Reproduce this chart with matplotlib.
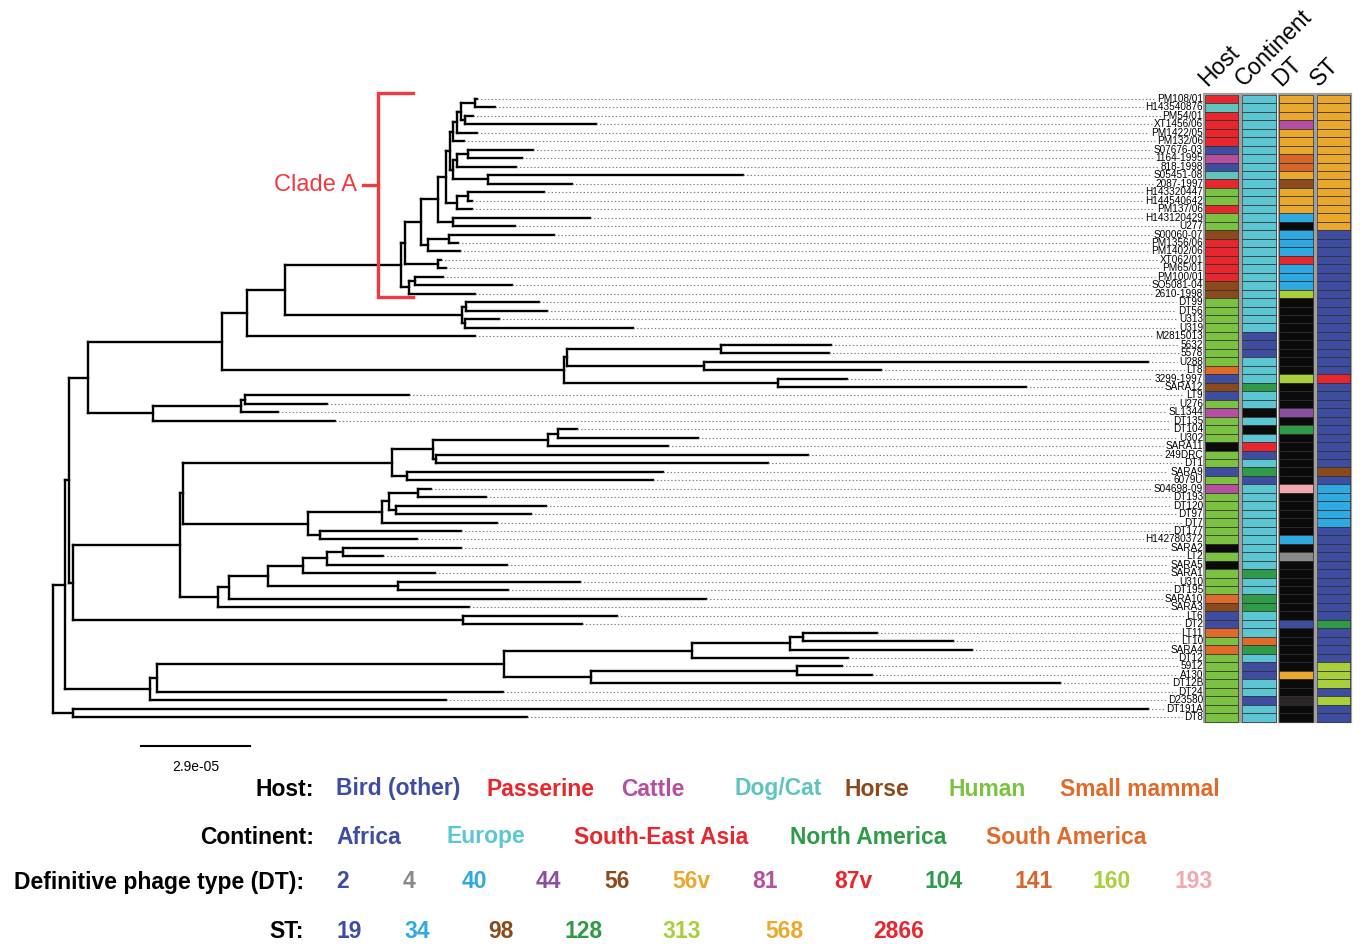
import matplotlib
matplotlib.use("Agg")
import matplotlib.pyplot as plt
from matplotlib.patches import Rectangle
from matplotlib.collections import LineCollection

plt.rcParams['font.family'] = ['Liberation Sans', 'DejaVu Sans']

# tip order, top to bottom
TIP_NAMES = ["PM108/01", "H143540876", "PM54/01", "XT1456/06", "PM1422/05", "PM132/06",
             "S07676-03", "1164-1995", "818-1998", "S05451-08", "2087-1997", "H143320447",
             "H144540642", "PM137/06", "H143120429", "U277", "S00060-07", "PM1356/06",
             "PM1402/06", "XT062/01", "PM65/01", "PM100/01", "SO5081-04", "2610-1998",
             "DT99", "DT56", "U313", "U319", "M2815013", "5632", "5578", "U288", "LT8",
             "3299-1997", "SARA12", "LT9", "U276", "SL1344", "DT135", "DT104", "U302",
             "SARA11", "249DRC", "DT1", "SARA9", "6079U", "S04698-09", "DT193", "DT120",
             "DT97", "DT7", "DT177", "H142780372", "SARA2", "LT2", "SARA5", "SARA1", "U310",
             "DT195", "SARA10", "SARA3", "LT6", "DT2", "LT11", "LT10", "SARA4", "DT12",
             "5912", "A130", "DT12B", "DT24", "D23580", "DT191A", "DT8"]

# host: b bird, p passerine, c cattle, d dog/cat, h horse, m human, s small mammal, x unknown
HOST = ["p", "d", "p", "p", "p", "p", "b", "c", "b", "d", "p", "m", "m", "p", "m", "m",
        "h", "p", "p", "p", "p", "p", "h", "h", "m", "m", "m", "m", "m", "m", "m", "m",
        "s", "b", "h", "b", "m", "c", "m", "m", "m", "x", "m", "m", "b", "m", "c", "m",
        "m", "m", "m", "m", "m", "x", "m", "x", "m", "m", "m", "s", "h", "b", "b", "s",
        "m", "s", "m", "m", "m", "m", "m", "m", "m", "m"]

# continent: a africa, e europe, r south-east asia, n north america, s south america, x unknown
CONTINENT = ["e"] * 28 + ["a", "a", "a", "e", "e", "e", "n", "e", "e", "x", "e", "x", "e",
                          "r", "a", "e", "n", "a", "e", "e", "e", "e", "e", "e", "e", "e",
                          "e", "e", "n", "e", "e", "n", "n", "e", "e", "e", "s", "n", "e",
                          "a", "a", "e", "e", "a", "e", "e"]

DT = ["56v", "56v", "56v", "81", "56v", "56v", "56v", "141", "141", "56v", "56", "56v",
      "56v", "56v", "40", "", "40", "40", "40", "87v", "40", "40", "40", "160",
      "", "", "", "", "", "", "", "", "", "160", "", "", "", "44", "", "104", "", "",
      "", "", "", "", "193", "", "", "", "", "", "40", "", "4", "", "", "", "", "",
      "", "", "2", "", "", "", "", "", "56v", "", "", "nt", "", ""]

ST = ["568"] * 16 + ["19"] * 17 + ["2866"] + ["19"] * 10 + ["98", "19"] + ["34"] * 5 + \
     ["19"] * 11 + ["128", "19", "19", "19", "19", "313", "313", "313", "19", "313", "19", "19"]

# tree, branch lengths in units of 1e-6 substitutions/site
A_TOP = "((((PM108/01:0.45,H143540876:5.32):3.80,(PM54/01:2.13,XT1456/06:34.77):1.14):1.06,PM1422/05:5.32):0.90,PM132/06:2.85)"
A_MID = "(((S07676-03:17.37,1164-1995:14.45):2.93,818-1998:15.70):0.90,(S05451-08:67.92,2087-1997:22.35):9.15)"
A_H = "((H143320447:20.22,H144540642:0.90):3.09,PM137/06:3.99)"
A_U = "(H143120429:36.53,U277:16.57)"
A_PM = "((S00060-07:27.93,PM1356/06:2.39):5.59,PM1402/06:8.43)"
A_XT = "(XT062/01:0.80,PM65/01:2.13)"
A_LOW = "((PM100/01:7.37,SO5081-04:25.72):1.52,2610-1998:17.48)"
CLADE_A = f"(((((({A_TOP}:0.88,{A_MID}:0.88):1.06,{A_H}:2.85):2.05,{A_U}:3.83):4.60,{A_PM}:1.94):4.26,{A_XT}:8.78):1.06,{A_LOW}:2.21)"
GRP_DT99 = "((DT99:19.42,DT56:21.47):1.14,(U313:9.04,U319:44.61):0.88)"
GRP_5632 = "(((5632:29.26,5578:28.73):40.97,(U288:118.12,LT8:47.09):36.45):0.88,(3299-1997:18.36,SARA12:65.97):57.01)"
GRP_LT9 = "(((LT9:43.71,U276:21.73):1.14,SL1344:9.84):23.25,DT135:48.34)"
GRP_DT104 = "((((DT104:5.05,U302:37.24):2.66,SARA11:31.92):30.67,(249DRC:98.96,DT1:88.32):0.88):10.91,(SARA9:68.10,6079U:65.52):3.99)"
GRP_DT193 = "((((S04698-09:3.30,DT193:18.01):7.71,(DT120:39.90,DT97:35.91):1.78):2.02,DT7:30.59):19.69,(DT177:37.51,H142780372:25.72):3.27)"
GRP_SARA = "((((((SARA2:31.47,LT2:10.64):4.10,SARA5:47.73):6.54,SARA1:35.20):9.31,(U310:48.50,DT195:29.26):34.58):10.22,SARA10:126.82):3.09,SARA3:66.93)"
GRP_LT11 = "((((LT11:19.53,LT10:39.90):3.54,SARA4:48.34):26.15,DT12:41.66):49.85,((5912:11.97,A130:20.11):54.72,DT12B:124.77):23.06)"

N285 = f"({CLADE_A}:30.86,{GRP_DT99}:47.01)"
N222 = f"(({N285}:10.19,M2815013:60.73):6.57,{GRP_5632}:90.90)"
N88 = f"({N222}:35.57,{GRP_LT9}:17.29)"
N180 = f"(({GRP_DT104}:55.44,{GRP_DT193}:33.09):0.88,{GRP_SARA}:10.03)"
N73 = f"({N180}:28.39,(LT6:40.97,DT2:31.82):103.59)"
N150 = f"(({GRP_LT11}:92.47,DT24:92.05):1.78,D23580:78.74)"
TREE = f"((({N88}:5.05,{N73}:1.06):1.14,{N150}:22.61):3.27,(DT191A:285.90,DT8:120.62):5.48);"

HOST_KEYS = ["b", "p", "c", "d", "h", "m", "s"]
HOST_LABELS = ["Bird (other)", "Passerine", "Cattle", "Dog/Cat", "Horse", "Human", "Small mammal"]
HOST_COLORS = ["#3f4da0", "#e8262e", "#b64f9f", "#5ec5be", "#8b4a1c", "#7cc242", "#df6a2a"]
CONT_KEYS = ["a", "e", "r", "n", "s"]
CONT_LABELS = ["Africa", "Europe", "South-East Asia", "North America", "South America"]
CONT_COLORS = ["#3f4da0", "#5cc7d3", "#e8262e", "#2f9a48", "#df6a2a"]
DT_LABELS = ["2", "4", "40", "44", "56", "56v", "81", "87v", "104", "141", "160", "193"]
DT_COLORS = ["#3f4da0", "#8a8a8a", "#2ea9e1", "#8b4fa2", "#8b4a1c", "#eaa92c", "#b64f9f",
             "#e8262e", "#2f9a48", "#d7662a", "#a9cf3b", "#f3a7ae"]
ST_LABELS = ["19", "34", "98", "128", "313", "568", "2866"]
ST_COLORS = ["#3f4da0", "#2ea9e1", "#8b4a1c", "#2f9a48", "#a9cf3b", "#eaa92c", "#e8262e"]
UNKNOWN = "#0b0b0b"


def parse_newick(s):
    pos = 0

    def node():
        nonlocal pos
        kids = []
        if s[pos] == "(":
            pos += 1
            kids.append(node())
            while s[pos] == ",":
                pos += 1
                kids.append(node())
            pos += 1
        start = pos
        while s[pos] not in ":,();":
            pos += 1
        name = s[start:pos]
        length = 0.0
        if s[pos] == ":":
            pos += 1
            start = pos
            while s[pos] not in ",();":
                pos += 1
            length = float(s[start:pos])
        return {"name": name, "len": length, "kids": kids}

    return node()


def layout(n, x0, segs, tips):
    n["x"] = x0 + n["len"]
    if not n["kids"]:
        n["y"] = TIP_NAMES.index(n["name"])
        tips.append(n)
        return
    for k in n["kids"]:
        layout(k, n["x"], segs, tips)
        segs.append([(n["x"], k["y"]), (k["x"], k["y"])])
    n["y"] = (n["kids"][0]["y"] + n["kids"][-1]["y"]) / 2
    segs.append([(n["x"], n["kids"][0]["y"]), (n["x"], n["kids"][-1]["y"])])


W, H = 1363, 944
fig = plt.figure(figsize=(W / 100, H / 100), dpi=100)

# pixel layout of the tree panel
px_unit = 3.759          # pixels per 1e-6
root_px = 52.7
row0_px, row_px = 99.0, 8.47
label_px = 1203
ylim = ((H - row0_px) / row_px, -row0_px / row_px)

ax = fig.add_axes([0, 0, label_px / W, 1])
ax.set_xlim(-root_px / px_unit, (label_px - root_px) / px_unit)
ax.set_ylim(*ylim)
ax.axis("off")

root = parse_newick(TREE)
segs, tips = [], []
layout(root, -root["len"], segs, tips)
ax.add_collection(LineCollection(segs, colors="black", linewidths=1.7, capstyle="projecting"))

labels = []
for t in tips:
    labels.append(ax.text(ax.get_xlim()[1], t["y"], t["name"], ha="right", va="center",
                          fontsize=7.2))
fig.canvas.draw()
rend = fig.canvas.get_renderer()
inv = ax.transData.inverted()
for t, lab in zip(tips, labels):
    bb = lab.get_window_extent(rend)
    xend = inv.transform((bb.x0 - 2, 0))[0]
    ax.plot([t["x"], xend], [t["y"], t["y"]], color="#7a7a7a", lw=0.8,
            linestyle=(0, (1.2, 2.0)))

# scale bar
bar0 = (141 - root_px) / px_unit
ax.plot([bar0, bar0 + 29], [76.4, 76.4], color="black", lw=1.5)
ax.text(bar0 + 14.5, 78.9, "2.9e-05", ha="center", va="center", fontsize=10)

# clade A bracket
red = "#ef3b3f"
bx, arm, tick = (378 - root_px) / px_unit, 9.3, 4.0
ax.plot([bx + arm, bx, bx, bx + arm], [-0.7, -0.7, 23.4, 23.4], color=red, lw=2.4,
        solid_joinstyle="miter")
ax.plot([bx - tick, bx], [10.1, 10.1], color=red, lw=2.4)
ax.text(bx - tick - 1.5, 10.1, "Clade A", color=red, ha="right", va="center", fontsize=17)

# metadata columns
cax = fig.add_axes([label_px / W, 0, 160 / W, 1])
col_px = 37.25
cax.set_xlim(0, 160 / col_px)
cax.set_ylim(*ylim)
cax.axis("off")

host_map = dict(zip(HOST_KEYS, HOST_COLORS))
cont_map = dict(zip(CONT_KEYS, CONT_COLORS))
dt_map = dict(zip(DT_LABELS, DT_COLORS))
dt_map["nt"] = "#2a2424"
st_map = dict(zip(ST_LABELS, ST_COLORS))
columns = [[host_map.get(v, UNKNOWN) for v in HOST],
           [cont_map.get(v, UNKNOWN) for v in CONTINENT],
           [dt_map.get(v, UNKNOWN) for v in DT],
           [st_map.get(v, UNKNOWN) for v in ST]]
n = len(TIP_NAMES)
for i, cols in enumerate(columns):
    cax.add_patch(Rectangle((i + 0.03, -0.6), 0.94, n + 0.2, facecolor="none",
                            edgecolor="#a0a0a0", lw=1.6))
    for j, c in enumerate(cols):
        cax.add_patch(Rectangle((i + 0.05, j - 0.5), 0.9, 1.0, facecolor=c,
                                edgecolor="#2b2b2b", lw=0.5))
for i, name in enumerate(["Host", "Continent", "DT", "ST"]):
    cax.text(i + 0.2, -1.0, name, rotation=45, rotation_mode="anchor", ha="left",
             va="bottom", fontsize=16.5)

# legend rows
def fx(px):
    return px / W


def fy(px):
    return 1 - px / H


rows = [
    ("Host:", 314, 789, HOST_LABELS, HOST_COLORS, [336, 487, 621, 735, 845, 948, 1060]),
    ("Continent:", 314, 837, CONT_LABELS, CONT_COLORS, [336, 446, 574, 790, 986]),
    ("Definitive phage type (DT):", 304, 882, DT_LABELS, DT_COLORS,
     [336, 403, 462, 536, 604, 672, 752, 834, 925, 1014, 1093, 1174]),
    ("ST:", 304, 932, ST_LABELS, ST_COLORS, [336, 404, 488, 564, 662, 765, 873]),
]
for title, tx, ty, labs, colors, xs in rows:
    fig.text(fx(tx), fy(ty), title, ha="right", va="center", fontsize=16.5,
             fontweight="bold", color="black")
    for lab, c, x in zip(labs, colors, xs):
        fig.text(fx(x), fy(ty), lab, ha="left", va="center", fontsize=16.5,
                 fontweight="bold", color=c)

fig.savefig("out.png", dpi=100)
